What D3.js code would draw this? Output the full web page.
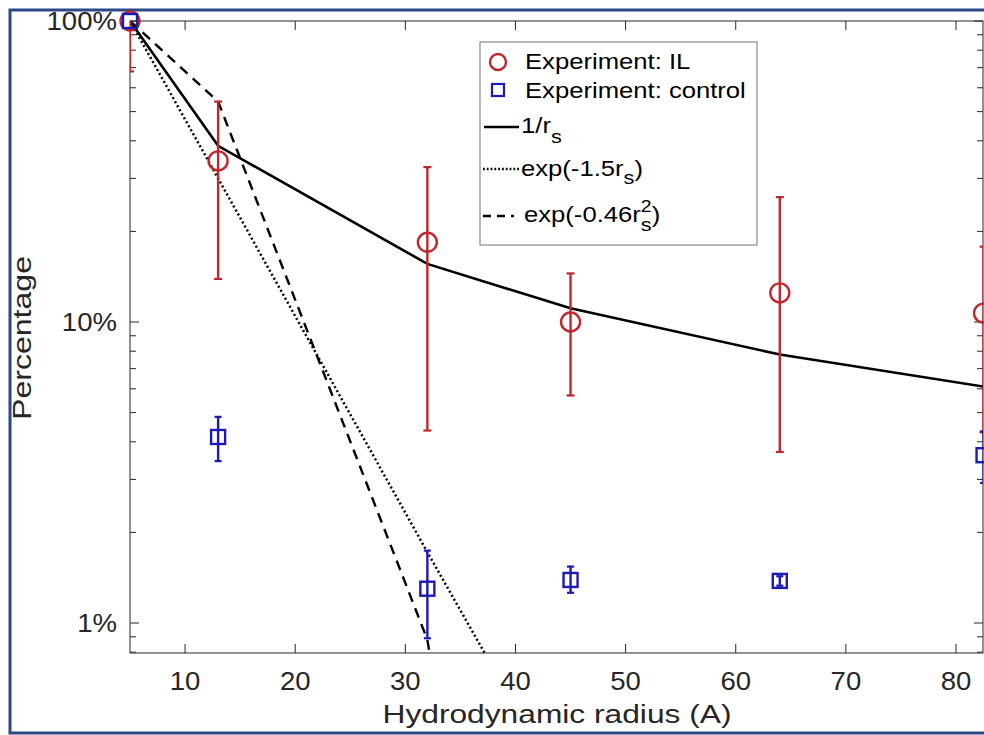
<!DOCTYPE html>
<html>
<head>
<meta charset="utf-8">
<script src="https://cdn.jsdelivr.net/npm/d3@7"></script>
<style>
  body { margin: 0; background: #fff; }
  svg { display: block; font-family: Arial, "Liberation Sans", sans-serif; }
</style>
</head>
<body>
<div id="chart"></div>
<script>
// hydrodynamic radius of each probe
const radius = [5, 13, 32, 45, 64, 82.5];

// experiment: IL (fraction of the smallest probe)
const ilMean = [1.0, 0.343, 0.184, 0.100, 0.125, 0.107];
const ilLow  = [0.68, 0.139, 0.0436, 0.057, 0.037, 0.043];
const ilHigh = [1.32, 0.54, 0.327, 0.145, 0.26, 0.178];

// experiment: control
const ctrlMean = [1.0, 0.0415, 0.0130, 0.0139, 0.0138, 0.0361];
const ctrlLow  = [1.0, 0.0345, 0.0089, 0.0126, 0.0133, 0.0292];
const ctrlHigh = [1.0, 0.0484, 0.0174, 0.0154, 0.0143, 0.0433];

// model curves, read at the same radii
const modelInv = [1, 0.385, 0.156, 0.111, 0.078, 0.061];
const modelExp = [1, 0.30, 0.0172, 0.0025, 0.00015, 0.00001];
const modelExpSq = [1, 0.54, 0.0088, 0.00001, 0.0000001, 0.000000001];

const xTicks = [10, 20, 30, 40, 50, 60, 70, 80];
const yTicks = [0.01, 0.1, 1];
const yTickLabels = ["1%", "10%", "100%"];

const W = 984, H = 735;
const margin = {top: 21, right: 1, bottom: 82, left: 130};
const width = W - margin.left - margin.right,
      height = H - margin.top - margin.bottom;

const svg = d3.select("#chart").append("svg")
  .attr("width", W).attr("height", H);

// outer blue frame
svg.append("rect")
  .attr("x", 10).attr("y", 10)
  .attr("width", 1000).attr("height", 723)
  .attr("fill", "none").attr("stroke", "#2b4987").attr("stroke-width", 3);

const g = svg.append("g").attr("transform", `translate(${margin.left},${margin.top})`);

const x = d3.scaleLinear().domain([5, 82.45]).range([0, width]);
const y = d3.scaleLog().domain([0.00795, 1]).range([height, 0]);

g.append("clipPath").attr("id", "clip")
  .append("rect").attr("width", width).attr("height", height);

// axes box
const axisColor = "#262626";
g.append("rect").attr("width", width).attr("height", height)
  .attr("fill", "none").attr("stroke", axisColor).attr("stroke-width", 1);

// the picture's glyphs are a little wider than Arial, so stretch text sideways
const tickFs = 26, tickStretch = 1.06;

// x ticks (bottom and top, inward)
xTicks.forEach(t => {
  g.append("line").attr("x1", x(t)).attr("x2", x(t)).attr("y1", height).attr("y2", height - 9)
    .attr("stroke", axisColor);
  g.append("line").attr("x1", x(t)).attr("x2", x(t)).attr("y1", 0).attr("y2", 9)
    .attr("stroke", axisColor);
  g.append("text").attr("transform", `translate(${x(t)},${height + 37}) scale(${tickStretch},1)`)
    .attr("text-anchor", "middle").attr("font-size", tickFs).attr("fill", axisColor).text(t);
});

// y ticks, major + minor
const minor = [];
[0.001, 0.01, 0.1].forEach(d => { for (let k = 2; k <= 9; k++) minor.push(d * k); });
minor.filter(v => v >= y.domain()[0] && v <= 1).forEach(v => {
  g.append("line").attr("x1", 0).attr("x2", 6).attr("y1", y(v)).attr("y2", y(v)).attr("stroke", axisColor);
  g.append("line").attr("x1", width).attr("x2", width - 6).attr("y1", y(v)).attr("y2", y(v)).attr("stroke", axisColor);
});
yTicks.forEach((v, i) => {
  g.append("line").attr("x1", 0).attr("x2", 9).attr("y1", y(v)).attr("y2", y(v)).attr("stroke", axisColor);
  g.append("line").attr("x1", width).attr("x2", width - 9).attr("y1", y(v)).attr("y2", y(v)).attr("stroke", axisColor);
  g.append("text").attr("transform", `translate(-13,${y(v)}) scale(${tickStretch},1)`).attr("dy", "0.35em")
    .attr("text-anchor", "end").attr("font-size", tickFs).attr("fill", axisColor).text(yTickLabels[i]);
});

// axis titles
svg.append("text").attr("x", 557).attr("y", 723)
  .attr("text-anchor", "middle").attr("font-size", 26).attr("fill", axisColor)
  .attr("textLength", 349).attr("lengthAdjust", "spacingAndGlyphs")
  .text("Hydrodynamic radius (A)");
svg.append("text").attr("transform", "translate(31,338) rotate(-90)")
  .attr("text-anchor", "middle").attr("font-size", 26).attr("fill", axisColor)
  .attr("textLength", 164).attr("lengthAdjust", "spacingAndGlyphs")
  .text("Percentage");

// model lines
const plot = g.append("g").attr("clip-path", "url(#clip)");
const line = d3.line().x((d, i) => x(radius[i])).y(d => y(d));

plot.append("path").datum(modelInv).attr("d", line)
  .attr("fill", "none").attr("stroke", "#000").attr("stroke-width", 2.6);
plot.append("path").datum(modelExp).attr("d", line)
  .attr("fill", "none").attr("stroke", "#000").attr("stroke-width", 2.5)
  .attr("stroke-dasharray", "2,2.6");
plot.append("path").datum(modelExpSq).attr("d", line)
  .attr("fill", "none").attr("stroke", "#000").attr("stroke-width", 2.4)
  .attr("stroke-dasharray", "10,7");

// error bars
const red = "#c0272d", blue = "#1a1ab4";
function errorBars(lo, hi, color, cap) {
  radius.forEach((r, i) => {
    if (hi[i] === lo[i]) return;
    const gx = x(r);
    plot.append("line").attr("x1", gx).attr("x2", gx).attr("y1", y(lo[i])).attr("y2", y(hi[i]))
      .attr("stroke", color).attr("stroke-width", 2.4);
    [lo[i], hi[i]].forEach(v => {
      plot.append("line").attr("x1", gx - cap).attr("x2", gx + cap).attr("y1", y(v)).attr("y2", y(v))
        .attr("stroke", color).attr("stroke-width", 2.2);
    });
  });
}
errorBars(ilLow, ilHigh, red, 4);
errorBars(ctrlLow, ctrlHigh, blue, 3.5);

// markers
g.selectAll(".il").data(ilMean).enter().append("circle")
  .attr("cx", (d, i) => x(radius[i])).attr("cy", d => y(d)).attr("r", 9.5)
  .attr("fill", "none").attr("stroke", red).attr("stroke-width", 2.4);
g.selectAll(".ctrl").data(ctrlMean).enter().append("rect")
  .attr("x", (d, i) => x(radius[i]) - 7).attr("y", d => y(d) - 7)
  .attr("width", 14).attr("height", 14)
  .attr("fill", "none").attr("stroke", blue).attr("stroke-width", 2.4);

// legend
const lg = svg.append("g");
lg.append("rect").attr("x", 480).attr("y", 42).attr("width", 277).attr("height", 203)
  .attr("fill", "#fff").attr("stroke", "#8a8a8a").attr("stroke-width", 1.2);
const fs = 22.5, ls = 1.14;
function legendText(x0, y0) {
  return lg.append("text").attr("transform", `translate(${x0},${y0}) scale(${ls},1)`)
    .attr("font-size", fs).attr("fill", "#000");
}
lg.append("circle").attr("cx", 498).attr("cy", 62).attr("r", 8)
  .attr("fill", "none").attr("stroke", red).attr("stroke-width", 2.4);
legendText(525, 69).text("Experiment: IL");
lg.append("rect").attr("x", 492).attr("y", 84).attr("width", 12).attr("height", 12)
  .attr("fill", "none").attr("stroke", blue).attr("stroke-width", 2.2);
legendText(525, 98).text("Experiment: control");

lg.append("line").attr("x1", 484).attr("x2", 519).attr("y1", 127).attr("y2", 127)
  .attr("stroke", "#000").attr("stroke-width", 2.6);
const t1 = legendText(521, 133);
t1.append("tspan").text("1/r");
t1.append("tspan").attr("dy", 10).attr("font-size", 19).text("s");

lg.append("line").attr("x1", 483).attr("x2", 519).attr("y1", 169).attr("y2", 169)
  .attr("stroke", "#000").attr("stroke-width", 2.3).attr("stroke-dasharray", "1.8,2");
const t2 = legendText(521, 176);
t2.append("tspan").text("exp(-1.5r");
t2.append("tspan").attr("dy", 8).attr("font-size", 19).text("s");
t2.append("tspan").attr("dy", -8).text(")");

lg.append("line").attr("x1", 483).attr("x2", 514).attr("y1", 216).attr("y2", 216)
  .attr("stroke", "#000").attr("stroke-width", 2.3).attr("stroke-dasharray", "8,6");
const t3 = legendText(524, 222);
t3.append("tspan").text("exp(-0.46r");
const sx = t3.node().getComputedTextLength();
t3.append("tspan").attr("x", sx).attr("dy", -10).attr("font-size", 17).text("2");
t3.append("tspan").attr("x", sx).attr("dy", 19).attr("font-size", 19).text("s");
t3.append("tspan").attr("dy", -9).text(")");
</script>
</body>
</html>
